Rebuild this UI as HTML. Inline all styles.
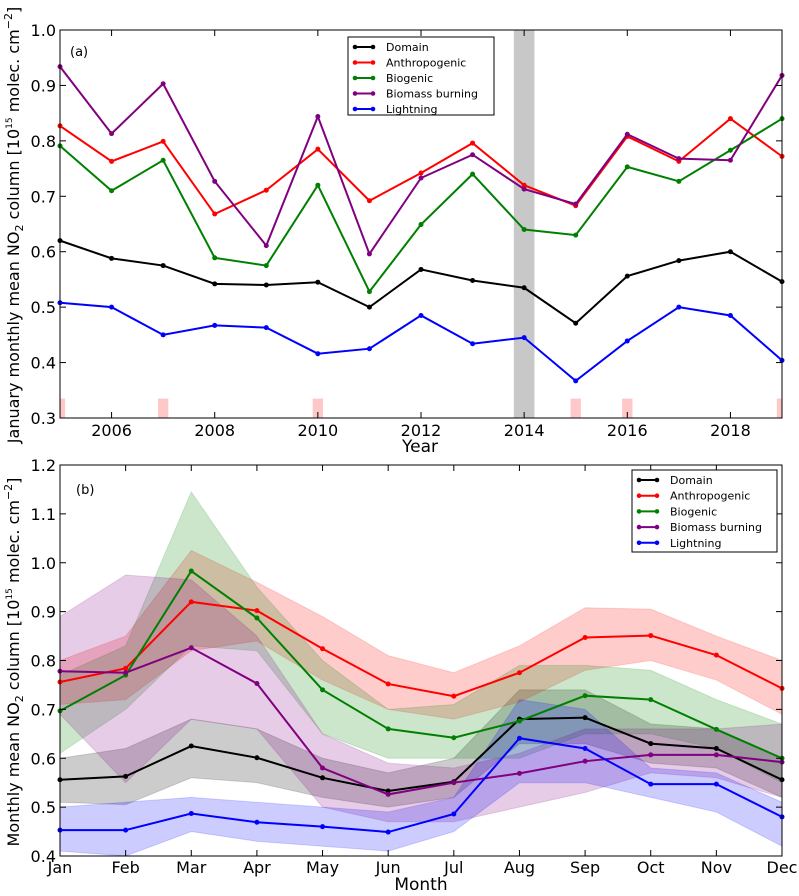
<!DOCTYPE html>
<html><head><meta charset="utf-8"><style>
body{margin:0;background:#fff}
svg{font-family:"DejaVu Sans","Liberation Sans",sans-serif}
</style></head><body>
<svg id="c" width="799" height="891"></svg>
<script>
const years=[2005,2006,2007,2008,2009,2010,2011,2012,2013,2014,2015,2016,2017,2018,2019];
const topDomain=[.62,.588,.575,.542,.54,.545,.50,.568,.548,.535,.471,.556,.584,.600,.546];
const topAnthro=[.827,.763,.799,.668,.711,.785,.692,.742,.796,.72,.683,.808,.763,.84,.772];
const topBio=[.791,.71,.765,.589,.575,.72,.528,.649,.74,.64,.63,.753,.727,.783,.84];
const topBiomass=[.934,.813,.903,.727,.611,.844,.596,.733,.775,.713,.686,.812,.768,.765,.918];
const topLight=[.508,.5,.45,.467,.463,.416,.425,.485,.434,.445,.367,.439,.5,.485,.404];
const pinkYears=[2005,2007,2010,2015,2016,2019];
const grayYear=[2014];
const months=["Jan","Feb","Mar","Apr","May","Jun","Jul","Aug","Sep","Oct","Nov","Dec"];
const mDomain=[.556,.563,.625,.601,.56,.533,.552,.68,.683,.63,.62,.556];
const mDomainHi=[.6,.62,.68,.66,.6,.57,.6,.74,.74,.67,.66,.6];
const mDomainLo=[.51,.505,.56,.55,.52,.5,.52,.63,.63,.59,.58,.52];
const mAnthro=[.756,.784,.92,.902,.824,.752,.727,.775,.847,.851,.811,.743];
const mAnthroHi=[.8,.85,1.025,.96,.89,.81,.775,.83,.908,.905,.85,.8];
const mAnthroLo=[.71,.72,.82,.84,.76,.7,.68,.715,.78,.8,.76,.69];
const mBio=[.697,.77,.983,.887,.74,.66,.642,.676,.728,.72,.659,.6];
const mBioHi=[.77,.83,1.145,.95,.8,.7,.71,.79,.79,.78,.72,.67];
const mBioLo=[.61,.7,.83,.82,.65,.6,.6,.6,.65,.65,.62,.55];
const mBiomass=[.778,.775,.826,.753,.58,.526,.55,.569,.594,.607,.607,.592];
const mBiomassHi=[.89,.975,.965,.85,.65,.59,.58,.61,.66,.66,.66,.67];
const mBiomassLo=[.69,.55,.68,.66,.5,.47,.47,.5,.53,.57,.56,.52];
const mLight=[.453,.453,.487,.469,.46,.449,.486,.641,.62,.547,.547,.48];
const mLightHi=[.5,.51,.52,.51,.5,.49,.52,.72,.7,.58,.57,.51];
const mLightLo=[.41,.4,.45,.43,.42,.41,.45,.55,.55,.52,.49,.42];
const topTicksX=[2006,2008,2010,2012,2014,2016,2018];
const topTicksY=[0.3,0.4,0.5,0.6,0.7,0.8,0.9,1.0];
const botTicksY=[0.4,0.5,0.6,0.7,0.8,0.9,1.0,1.1,1.2];
const names=["Domain","Anthropogenic","Biogenic","Biomass burning","Lightning"];
const cols=["#000","#f00","#008000","#800080","#00f"];

const S=document.getElementById('c');
const NS="http://www.w3.org/2000/svg";
function mk(t,a,p){const e=document.createElementNS(NS,t);for(const k in a)e.setAttribute(k,a[k]);(p||S).appendChild(e);return e;}
const L=60,R=782;
const tx=y=>L+(y-2005)*(R-L)/14, ty=v=>30+(1.0-v)*(418-30)/0.7;
const mx=i=>L+i*(R-L)/11, my=v=>465+(1.2-v)*(856-465)/0.8;

// top panel
const gT=mk('g',{});

grayYear.forEach(y=>{const r=mk('rect',{x:tx(y-0.2),y:30,width:tx(y+0.2)-tx(y-0.2),height:388,fill:'#c8c8c8'},gT);
});
pinkYears.forEach(y=>{const x0=Math.max(L,tx(y-0.1)),x1=Math.min(R,tx(y+0.1));
const r=mk('rect',{x:x0,y:ty(0.335),width:x1-x0,height:ty(0.3)-ty(0.335),fill:'#ffc8c8'},gT);
});
[topDomain,topAnthro,topBio,topBiomass,topLight].forEach((d,k)=>{
 const p=d.map((v,i)=>tx(years[i])+','+ty(v)).join(' ');
 const l=mk('polyline',{points:p,fill:'none',stroke:cols[k],'stroke-width':2},gT);
 
 d.forEach((v,i)=>{const c=mk('circle',{cx:tx(years[i]),cy:ty(v),r:2.5,fill:cols[k]},gT);
 });
});
mk('rect',{x:L,y:30,width:R-L,height:388,fill:'none',stroke:'#000','stroke-width':1},gT);
topTicksX.forEach(y=>{mk('line',{x1:tx(y),x2:tx(y),y1:418,y2:412,stroke:'#000'},gT);mk('line',{x1:tx(y),x2:tx(y),y1:30,y2:36,stroke:'#000'},gT);
 const t=mk('text',{x:tx(y),y:436,'font-size':16,'text-anchor':'middle'},gT);t.textContent=y;
 });
topTicksY.forEach(v=>{mk('line',{x1:L,x2:L+6,y1:ty(v),y2:ty(v),stroke:'#000'},gT);mk('line',{x1:R,x2:R-6,y1:ty(v),y2:ty(v),stroke:'#000'},gT);
 const t=mk('text',{x:L-4,y:ty(v)+6,'font-size':16,'text-anchor':'end'},gT);t.textContent=v.toFixed(1);
 });
let t=mk('text',{x:70,y:56,'font-size':13},gT);t.textContent='(a)';
t=mk('text',{x:420,y:452,'font-size':17,'text-anchor':'middle'},gT);t.textContent='Year';

t=mk('text',{transform:'translate(19,225) rotate(-90)','font-size':16,'text-anchor':'middle'},gT);
t.innerHTML='January monthly mean NO<tspan font-size="11" dy="4">2</tspan><tspan dy="-4"> column [10</tspan><tspan font-size="9" dy="-7">15</tspan><tspan dy="7"> molec. cm</tspan><tspan font-size="11" dy="-7">−2</tspan><tspan dy="7">]</tspan>';


function legend(x,y,w,h,fs,dy,g){
 const gl=mk('g',{},g);
 mk('rect',{x:x,y:y,width:w,height:h,fill:'#fff',stroke:'#000'},gl);
 names.forEach((n,k)=>{const yy=y+10+k*dy;
  mk('line',{x1:x+6,x2:x+26,y1:yy,y2:yy,stroke:cols[k],'stroke-width':2},gl);
  mk('circle',{cx:x+7,cy:yy,r:2.3,fill:cols[k]},gl);mk('circle',{cx:x+25,cy:yy,r:2.3,fill:cols[k]},gl);
  const e=mk('text',{x:x+38,y:yy+4,'font-size':fs},gl);e.textContent=n;
  });
}
legend(348,37,146,78,11,15.5,gT);

// bottom panel
const gB=mk('g',{});

const series=[[mDomain,mDomainLo,mDomainHi],[mAnthro,mAnthroLo,mAnthroHi],[mBio,mBioLo,mBioHi],[mBiomass,mBiomassLo,mBiomassHi],[mLight,mLightLo,mLightHi]];
series.forEach((s,k)=>{
 const p=s[2].map((v,i)=>mx(i)+','+my(v)).concat(s[1].map((v,i)=>mx(i)+','+my(v)).reverse()).join(' ');
 const b=mk('polygon',{points:p,fill:cols[k],'fill-opacity':0.2,stroke:cols[k],'stroke-opacity':0.15},gB);
 
});
series.forEach((s,k)=>{
 const p=s[0].map((v,i)=>mx(i)+','+my(v)).join(' ');
 const l=mk('polyline',{points:p,fill:'none',stroke:cols[k],'stroke-width':2},gB);
 
 s[0].forEach((v,i)=>{const c=mk('circle',{cx:mx(i),cy:my(v),r:2.5,fill:cols[k]},gB);
 });
});
mk('rect',{x:L,y:465,width:R-L,height:391,fill:'none',stroke:'#000'},gB);
months.forEach((m,i)=>{mk('line',{x1:mx(i),x2:mx(i),y1:856,y2:850,stroke:'#000'},gB);mk('line',{x1:mx(i),x2:mx(i),y1:465,y2:471,stroke:'#000'},gB);
 const e=mk('text',{x:mx(i),y:873,'font-size':16,'text-anchor':'middle'},gB);e.textContent=m;
 });
botTicksY.forEach(v=>{mk('line',{x1:L,x2:L+6,y1:my(v),y2:my(v),stroke:'#000'},gB);mk('line',{x1:R,x2:R-6,y1:my(v),y2:my(v),stroke:'#000'},gB);
 const e=mk('text',{x:L-4,y:my(v)+6,'font-size':16,'text-anchor':'end'},gB);e.textContent=v.toFixed(1);
 });
t=mk('text',{x:76,y:494,'font-size':13},gB);t.textContent='(b)';
t=mk('text',{x:421,y:890,'font-size':17,'text-anchor':'middle'},gB);t.textContent='Month';

t=mk('text',{transform:'translate(19,662) rotate(-90)','font-size':16,'text-anchor':'middle'},gB);
t.innerHTML='Monthly mean NO<tspan font-size="11" dy="4">2</tspan><tspan dy="-4"> column [10</tspan><tspan font-size="9" dy="-7">15</tspan><tspan dy="7"> molec. cm</tspan><tspan font-size="11" dy="-7">−2</tspan><tspan dy="7">]</tspan>';

legend(632,470,145,82,11,15.7,gB);
</script>
</body></html>
